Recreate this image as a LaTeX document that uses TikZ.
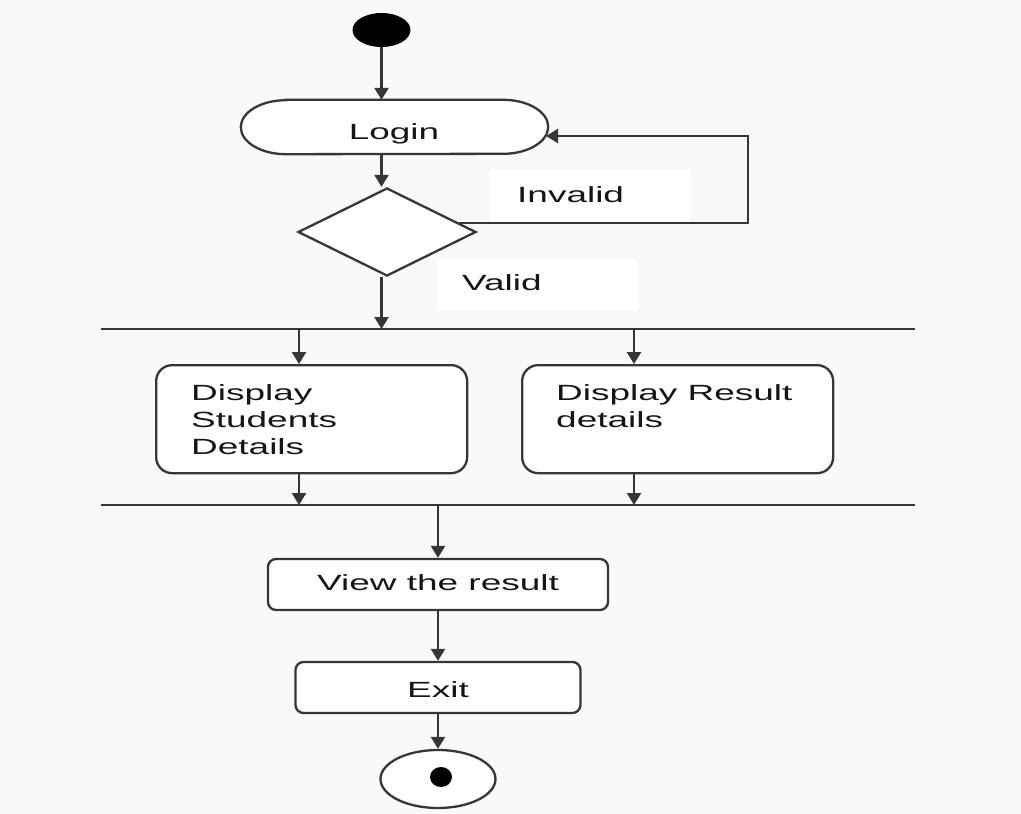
\documentclass[tikz,border=0pt]{standalone}
\usepackage{fontspec}
\setmainfont{Liberation Sans}
\usepackage{graphicx}
\usetikzlibrary{shapes.geometric,arrows.meta,calc}
\definecolor{bg}{HTML}{F9F9F9}
\definecolor{lc}{HTML}{363636}
\definecolor{tc}{HTML}{151515}
\newcommand{\wide}[1]{\scalebox{1.68}[1]{#1}}
\begin{document}
\begin{tikzpicture}[x=1pt,y=-1pt,
  ln/.style={draw=lc, line width=2.3pt},
  arr/.style={-{Triangle[length=12pt,width=14pt]}},
  txt/.style={inner sep=0pt, text=tc, font=\fontsize{22}{27}\selectfont},
  lblbg/.style={fill=white, inner sep=0pt, anchor=north west},
  act/.style={draw=lc, line width=2.3pt, fill=white, rounded corners=16pt, inner sep=0pt}]
\path[use as bounding box, fill=bg] (0,0) rectangle (1021,814);

% label backgrounds
\node[lblbg, minimum width=200pt, minimum height=52pt] (invbg) at (490,170) {};
\node[lblbg, minimum width=200pt, minimum height=50pt] (valbg) at (437,260) {};

% start
\node[ellipse, fill=black, minimum width=58pt, minimum height=34pt, inner sep=0pt] (start) at (381.5,30) {};

% login
\node[inner sep=0pt, minimum width=307pt, minimum height=54pt] (login) at (394.5,127) {};
\draw[ln, fill=white] ($(login.north west)+(45,0)$) -- ($(login.north east)+(-45,0)$)
  arc[start angle=-90, end angle=90, x radius=45, y radius=27]
  -- ($(login.south west)+(45,0)$)
  arc[start angle=90, end angle=270, x radius=45, y radius=27] -- cycle;
\node[txt, anchor=base] (logintxt) at (394,139) {\wide{Login}};

% decision
\node[diamond, draw=lc, line width=2.3pt, fill=white, minimum width=178pt, minimum height=88pt, inner sep=0pt] (dec) at (387,232) {};

\node[txt, anchor=base west] (invtxt) at (517,202) {\wide{Invalid}};
\node[txt, anchor=base west] (valtxt) at (462,290) {\wide{Valid}};

% loop back
\coordinate (dout) at ($(dec.east)!0.2!(dec.north)$);
\coordinate (loopc) at (748,223);
\coordinate (loginin) at (546,136);
\draw[ln, arr] (dout) -- (dout -| loopc) |- (loginin);

% main flow
\coordinate (b1w) at (101,329);
\coordinate (b1e) at (915,329);
\coordinate (b2w) at (101,505);
\coordinate (b2e) at (915,505);
\draw[ln] (b1w) -- (b1e);
\draw[ln] (b2w) -- (b2e);

\draw[ln, arr] (start.south) -- (start |- login.north);
\draw[ln, arr] (start |- login.south) -- (start |- dec.north);
\draw[ln, arr] (start |- dec.south) -- (start |- b1w);

% parallel activities
\node[act, minimum width=311pt, minimum height=108pt, anchor=north west] (dsd) at (155,364) {};
\node[act, minimum width=311pt, minimum height=108pt, anchor=north west] (drd) at (521,364) {};
\node[txt, anchor=base west] (dsdtxt) at (191,400) {\wide{\begin{tabular}[t]{@{}l@{}}Display\\Students\\Details\end{tabular}}};
\node[txt, anchor=base west] (drdtxt) at (556,400) {\wide{\begin{tabular}[t]{@{}l@{}}Display Result\\details\end{tabular}}};

\coordinate (f1) at (299,329);
\coordinate (f2) at (634,329);
\draw[ln, arr] (f1) -- (f1 |- dsd.north);
\draw[ln, arr] (f2) -- (f2 |- drd.north);
\draw[ln, arr] (f1 |- dsd.south) -- (f1 |- b2w);
\draw[ln, arr] (f2 |- drd.south) -- (f2 |- b2w);

% view / exit
\node[act, rounded corners=8pt, minimum width=340pt, minimum height=51pt] (view) at (438,584.5) {};
\node[txt, anchor=base] (viewtxt) at (438,590) {\wide{View the result}};
\node[act, rounded corners=8pt, minimum width=285pt, minimum height=51pt] (exit) at (438,687.5) {};
\node[txt, anchor=base] (exittxt) at (438,697) {\wide{Exit}};

\coordinate (f3) at (438,505);
\draw[ln, arr] (f3) -- (f3 |- view.north);
\draw[ln, arr] (view.south) -- (exit.north);

% final
\node[ellipse, draw=lc, line width=2.3pt, fill=white, minimum width=115pt, minimum height=58pt, inner sep=0pt] (stop) at (438,779) {};
\node[ellipse, fill=black, minimum width=22pt, minimum height=20pt, inner sep=0pt] (stopdot) at (441,777) {};
\draw[ln, arr] (exit.south) -- (stop.north);
\end{tikzpicture}
\end{document}
